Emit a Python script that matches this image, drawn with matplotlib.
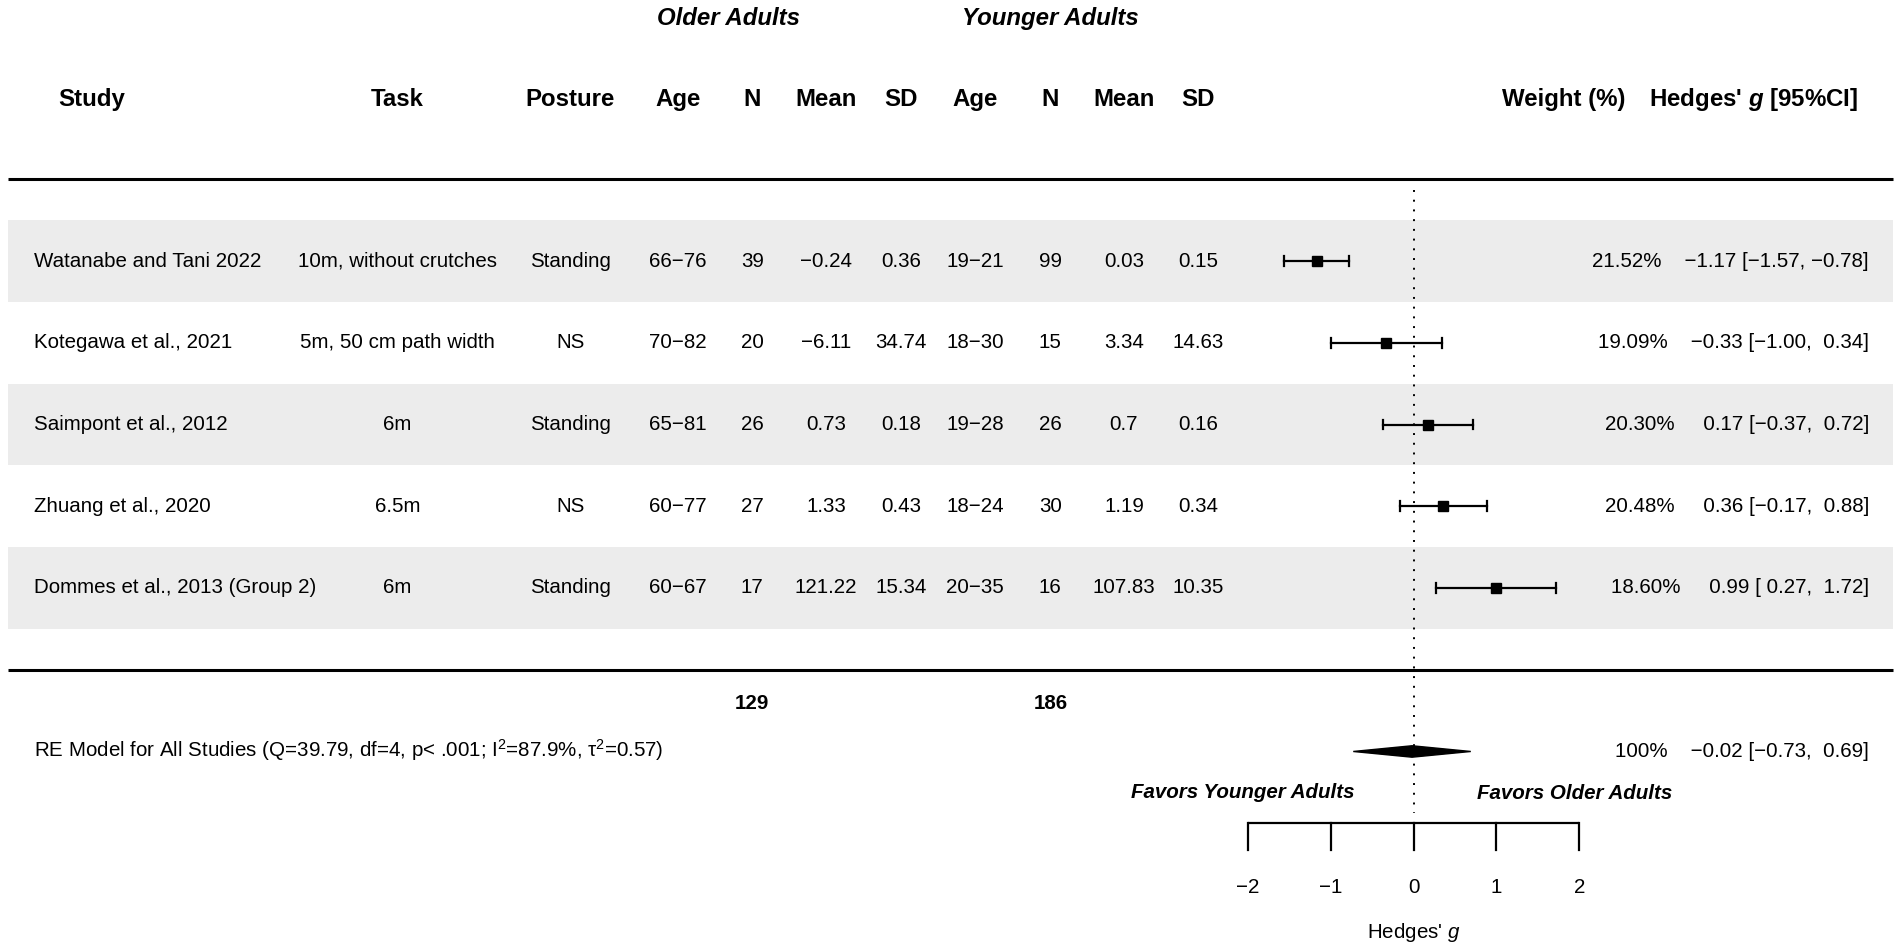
import matplotlib
matplotlib.use("Agg")
import matplotlib.pyplot as plt
from matplotlib.patches import Rectangle, Polygon

plt.rcParams['font.family'] = ['Liberation Sans', 'DejaVu Sans']
plt.rcParams['mathtext.fontset'] = 'custom'
plt.rcParams['mathtext.rm'] = 'Liberation Sans'
plt.rcParams['mathtext.it'] = 'Liberation Sans:italic'
plt.rcParams['mathtext.bf'] = 'Liberation Sans:bold'
plt.rcParams['mathtext.bfit'] = 'Liberation Sans:italic:bold'

# data
studies = ["Watanabe and Tani 2022", "Kotegawa et al., 2021", "Saimpont et al., 2012",
           "Zhuang et al., 2020", "Dommes et al., 2013 (Group 2)"]
tasks = ["10m, without crutches", "5m, 50 cm path width", "6m", "6.5m", "6m"]
postures = ["Standing", "NS", "Standing", "NS", "Standing"]
old_age = ["66\u221276", "70\u221282", "65\u221281", "60\u221277", "60\u221267"]
old_n = [39, 20, 26, 27, 17]
old_mean = ["\u22120.24", "\u22126.11", "0.73", "1.33", "121.22"]
old_sd = ["0.36", "34.74", "0.18", "0.43", "15.34"]
young_age = ["19\u221221", "18\u221230", "19\u221228", "18\u221224", "20\u221235"]
young_n = [99, 15, 26, 30, 16]
young_mean = ["0.03", "3.34", "0.7", "1.19", "107.83"]
young_sd = ["0.15", "14.63", "0.16", "0.34", "10.35"]
weights = [21.52, 19.09, 20.30, 20.48, 18.60]
g = [-1.17, -0.33, 0.17, 0.36, 0.99]
ci_lo = [-1.57, -1.00, -0.37, -0.17, 0.27]
ci_hi = [-0.78, 0.34, 0.72, 0.88, 1.72]
re_est, re_lo, re_hi = -0.02, -0.73, 0.69
re_label = "RE Model for All Studies (Q=39.79, df=4, p< .001; I$^2$=87.9%, \u03c4$^2$=0.57)"
total_old, total_young = 129, 186
ticks = [-2, -1, 0, 1, 2]


def fmt(v):
    s = "%.2f" % v
    if v < 0:
        return s.replace("-", "\u2212")
    return " " + s


fig = plt.figure(figsize=(19.02, 9.52), dpi=100)
ax = fig.add_axes([0, 0, 1, 1])
ax.set_xlim(-17.08, 5.90)
ax.set_ylim(-3.453, 8.193)
ax.axis("off")

k = len(studies)
rows = list(range(k, 0, -1))

# column x positions (in effect-size units, like metafor does)
x_study = -16.67
x_task = -12.28
x_post = -10.19
x_cols = [-8.89, -7.99, -7.10, -6.19, -5.30, -4.39, -3.50, -2.60]
x_annot = 5.50
left, right = -16.98, 5.79

fs = 14.8
hfs = 17.3

# shaded bands
for i, y in enumerate(rows):
    if i % 2 == 0:
        ax.add_patch(Rectangle((left, y - 0.5), right - left, 1.0,
                               facecolor="#ececec", edgecolor="none", zorder=0))

ax.plot([left, right], [6, 6], color="black", lw=2.2, solid_capstyle="butt")
ax.plot([left, right], [0, 0], color="black", lw=2.2, solid_capstyle="butt")
ax.plot([0, 0], [5.87, -1.75], color="black", lw=1.4, linestyle=(0, (1, 4)))

# study rows
for i, y in enumerate(rows):
    ax.text(x_study, y, studies[i], ha="left", va="center", fontsize=fs)
    ax.text(x_task, y, tasks[i], ha="center", va="center", fontsize=fs)
    ax.text(x_post, y, postures[i], ha="center", va="center", fontsize=fs)
    vals = [old_age[i], str(old_n[i]), old_mean[i], old_sd[i],
            young_age[i], str(young_n[i]), young_mean[i], young_sd[i]]
    for xc, v in zip(x_cols, vals):
        ax.text(xc, y, v, ha="center", va="center", fontsize=fs)
    ax.plot([ci_lo[i], ci_hi[i]], [y, y], color="black", lw=1.6)
    for xe in (ci_lo[i], ci_hi[i]):
        ax.plot([xe, xe], [y - 0.06, y + 0.06], color="black", lw=1.6)
    ax.plot(g[i], y, marker="s", color="black",
            markersize=7.4 * (weights[i] / 20.0) ** 0.5)
    ax.text(x_annot, y, "%.2f%%    %s [%s, %s]" % (weights[i], fmt(g[i]), fmt(ci_lo[i]), fmt(ci_hi[i])),
            ha="right", va="center", fontsize=fs)

# headers
ax.text(-8.28, 7.97, "Older Adults", ha="center", va="center", fontsize=hfs,
        fontweight="bold", fontstyle="italic")
ax.text(-4.39, 7.97, "Younger Adults", ha="center", va="center", fontsize=hfs,
        fontweight="bold", fontstyle="italic")
ax.text(-16.38, 6.97, "Study", ha="left", va="center", fontsize=hfs, fontweight="bold")
ax.text(x_task, 6.97, "Task", ha="center", va="center", fontsize=hfs, fontweight="bold")
ax.text(x_post, 6.97, "Posture", ha="center", va="center", fontsize=hfs, fontweight="bold")
for xc, h in zip(x_cols, ["Age", "N", "Mean", "SD", "Age", "N", "Mean", "SD"]):
    ax.text(xc, 6.97, h, ha="center", va="center", fontsize=hfs, fontweight="bold")
ax.text(1.81, 6.97, "Weight (%)", ha="center", va="center", fontsize=hfs, fontweight="bold")
ax.text(5.37, 6.97, r"Hedges' $\mathbfit{g}$ [95%CI]", ha="right", va="center",
        fontsize=hfs, fontweight="bold")

# totals and pooled estimate
ax.text(x_cols[1], -0.41, str(total_old), ha="center", va="center", fontsize=fs, fontweight="bold")
ax.text(x_cols[5], -0.41, str(total_young), ha="center", va="center", fontsize=fs, fontweight="bold")
ax.text(x_study, -0.98, re_label, ha="left", va="center", fontsize=fs)
ax.add_patch(Polygon([(re_lo, -1.0), (re_est, -0.93), (re_hi, -1.0), (re_est, -1.07)],
                     closed=True, facecolor="black", edgecolor="black", lw=1))
ax.text(x_annot, -1.0, "100%%    %s [%s, %s]" % (fmt(re_est), fmt(re_lo), fmt(re_hi)),
        ha="right", va="center", fontsize=fs)

ax.text(-2.06, -1.50, "Favors Younger Adults", ha="center", va="center", fontsize=fs,
        fontweight="bold", fontstyle="italic")
ax.text(1.94, -1.52, "Favors Older Adults", ha="center", va="center", fontsize=fs,
        fontweight="bold", fontstyle="italic")

# x axis drawn by hand at the bottom
ax.plot([ticks[0], ticks[-1]], [-1.875, -1.875], color="black", lw=1.6, solid_capstyle="butt")
for t in ticks:
    ax.plot([t, t], [-1.875, -2.20], color="black", lw=1.6)
    ax.text(t, -2.66, ("%d" % t).replace("-", "\u2212"), ha="center", va="center", fontsize=fs)
ax.text(0, -3.22, r"Hedges' $\mathit{g}$", ha="center", va="center", fontsize=fs)

fig.savefig("out.png", dpi=100, facecolor="white")
